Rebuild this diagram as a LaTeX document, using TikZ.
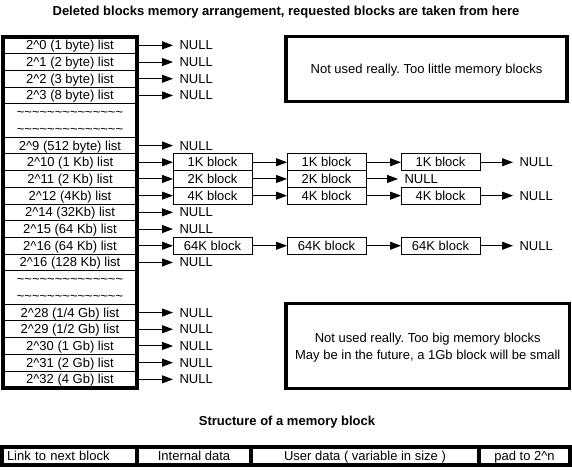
\documentclass[tikz,border=0pt]{standalone}
\usepackage{fontspec}
\setmainfont{Liberation Sans}
\usetikzlibrary{positioning}
\usetikzlibrary{arrows.meta}
\frenchspacing

\newcommand{\pwr}{\textasciicircum}
\newcommand{\wavyline}{\textasciitilde\textasciitilde\textasciitilde\textasciitilde\textasciitilde\textasciitilde\textasciitilde\textasciitilde\textasciitilde\textasciitilde\textasciitilde\textasciitilde\textasciitilde\textasciitilde}

\begin{document}
\begin{tikzpicture}[x=1pt,y=-1pt,line width=1pt,
  font=\fontsize{13}{17}\selectfont,
  row/.style={draw,minimum width=134pt,minimum height=16.7pt,inner sep=0pt,outer sep=0pt,text height=9pt,text depth=0pt},
  gap/.style={row,draw=none},
  blk/.style={row,minimum width=79pt},
  nul/.style={inner xsep=6.5pt,inner ysep=0pt,outer sep=0pt,text height=9pt,text depth=0pt},
  ptr/.style={-{Triangle[length=11pt,width=8pt]}},
  note/.style={draw,line width=3.5pt,align=center,inner sep=0pt,outer sep=0pt},
  cell/.style={draw,line width=3.5pt,minimum height=18pt,inner sep=0pt,outer sep=0pt,text height=9pt,text depth=0pt},
  ttl/.style={font=\fontsize{13}{17}\selectfont\bfseries,inner sep=0pt,text height=9pt,text depth=0pt}]
\useasboundingbox (0,0) rectangle (572,469);

\node[ttl] (head) at (286,10.5) {Deleted blocks memory arrangement, requested blocks are taken from here};

% the list heads
\node[row] (p0) at (70,45.35) {2\pwr0 (1 byte) list};
\node[row] (p1) at (70,62.05) {2\pwr1 (2 byte) list};
\node[row] (p2) at (70,78.75) {2\pwr2 (3 byte) list};
\node[row] (p3) at (70,95.45) {2\pwr3 (8 byte) list};
\node[gap] (w1) at (70,112.15) {\wavyline};
\node[gap] (w2) at (70,128.85) {\wavyline};
\node[row] (p9) at (70,145.55) {2\pwr9 (512 byte) list};
\node[row] (p10) at (70,162.25) {2\pwr10 (1 Kb) list};
\node[row] (p11) at (70,178.95) {2\pwr11 (2 Kb) list};
\node[row] (p12) at (70,195.65) {2\pwr12 (4Kb) list};
\node[row] (p14) at (70,212.35) {2\pwr14 (32Kb) list};
\node[row] (p15) at (70,229.05) {2\pwr15 (64 Kb) list};
\node[row] (p16a) at (70,245.75) {2\pwr16 (64 Kb) list};
\node[row] (p16b) at (70,262.45) {2\pwr16 (128 Kb) list};
\node[gap] (w3) at (70,279.15) {\wavyline};
\node[gap] (w4) at (70,295.85) {\wavyline};
\node[row] (p28) at (70,312.55) {2\pwr28 (1/4 Gb) list};
\node[row] (p29) at (70,329.25) {2\pwr29 (1/2 Gb) list};
\node[row] (p30) at (70,345.95) {2\pwr30 (1 Gb) list};
\node[row] (p31) at (70,362.65) {2\pwr31 (2 Gb) list};
\node[row] (p32) at (70,379.35) {2\pwr32 (4 Gb) list};
\draw[line width=3.8pt] (p0.north west) rectangle (p32.south east);

% empty lists
\node[nul,right=36pt of p0] (n0) {NULL};
\node[nul,right=36pt of p1] (n1) {NULL};
\node[nul,right=36pt of p2] (n2) {NULL};
\node[nul,right=36pt of p3] (n3) {NULL};
\node[nul,right=36pt of p9] (n9) {NULL};
\node[nul,right=36pt of p14] (n14) {NULL};
\node[nul,right=36pt of p15] (n15) {NULL};
\node[nul,right=36pt of p16b] (n16b) {NULL};
\node[nul,right=36pt of p28] (n28) {NULL};
\node[nul,right=36pt of p29] (n29) {NULL};
\node[nul,right=36pt of p30] (n30) {NULL};
\node[nul,right=36pt of p31] (n31) {NULL};
\node[nul,right=36pt of p32] (n32) {NULL};
\draw[ptr] (p0) -- (n0);
\draw[ptr] (p1) -- (n1);
\draw[ptr] (p2) -- (n2);
\draw[ptr] (p3) -- (n3);
\draw[ptr] (p9) -- (n9);
\draw[ptr] (p14) -- (n14);
\draw[ptr] (p15) -- (n15);
\draw[ptr] (p16b) -- (n16b);
\draw[ptr] (p28) -- (n28);
\draw[ptr] (p29) -- (n29);
\draw[ptr] (p30) -- (n30);
\draw[ptr] (p31) -- (n31);
\draw[ptr] (p32) -- (n32);

% lists with blocks
\node[blk,right=36pt of p10] (k1a) {1K block};
\node[blk,right=35pt of k1a] (k1b) {1K block};
\node[blk,right=35pt of k1b] (k1c) {1K block};
\node[nul,right=33pt of k1c] (n10) {NULL};
\draw[ptr] (p10) -- (k1a);
\draw[ptr] (k1a) -- (k1b);
\draw[ptr] (k1b) -- (k1c);
\draw[ptr] (k1c) -- (n10);

\node[blk,right=36pt of p11] (k2a) {2K block};
\node[blk,right=35pt of k2a] (k2b) {2K block};
\node[nul,right=32pt of k2b] (n11) {NULL};
\draw[ptr] (p11) -- (k2a);
\draw[ptr] (k2a) -- (k2b);
\draw[ptr] (k2b) -- (n11);

\node[blk,right=36pt of p12] (k4a) {4K block};
\node[blk,right=35pt of k4a] (k4b) {4K block};
\node[blk,right=35pt of k4b] (k4c) {4K block};
\node[nul,right=33pt of k4c] (n12) {NULL};
\draw[ptr] (p12) -- (k4a);
\draw[ptr] (k4a) -- (k4b);
\draw[ptr] (k4b) -- (k4c);
\draw[ptr] (k4c) -- (n12);

\node[blk,right=36pt of p16a] (k64a) {64K block};
\node[blk,right=35pt of k64a] (k64b) {64K block};
\node[blk,right=35pt of k64b] (k64c) {64K block};
\node[nul,right=33pt of k64c] (n16a) {NULL};
\draw[ptr] (p16a) -- (k64a);
\draw[ptr] (k64a) -- (k64b);
\draw[ptr] (k64b) -- (k64c);
\draw[ptr] (k64c) -- (n16a);

% unused ranges
\node[note,minimum width=281pt,minimum height=65pt,text height=9pt,text depth=0pt] (little) at (426.5,69) {Not used really. Too little memory blocks};
\node[note,minimum width=283.5pt,minimum height=85pt] (big) at (427.75,346) {\rule{0pt}{13.5pt}Not used really. Too big memory blocks\\May be in the future, a 1Gb block will be small};

% block layout
\node[ttl] (layout) at (287,421) {Structure of a memory block};
\node[cell,minimum width=135pt,text width=125pt,align=left] (link) at (69.5,456) {Link to next block};
\node[cell,minimum width=114pt,right=0pt of link] (intern) {Internal data};
\node[cell,minimum width=228pt,right=0pt of intern] (user) {User data ( variable in size )};
\node[cell,minimum width=91pt,right=0pt of user] (pad) {pad to 2\pwr n};

\end{tikzpicture}
\end{document}
